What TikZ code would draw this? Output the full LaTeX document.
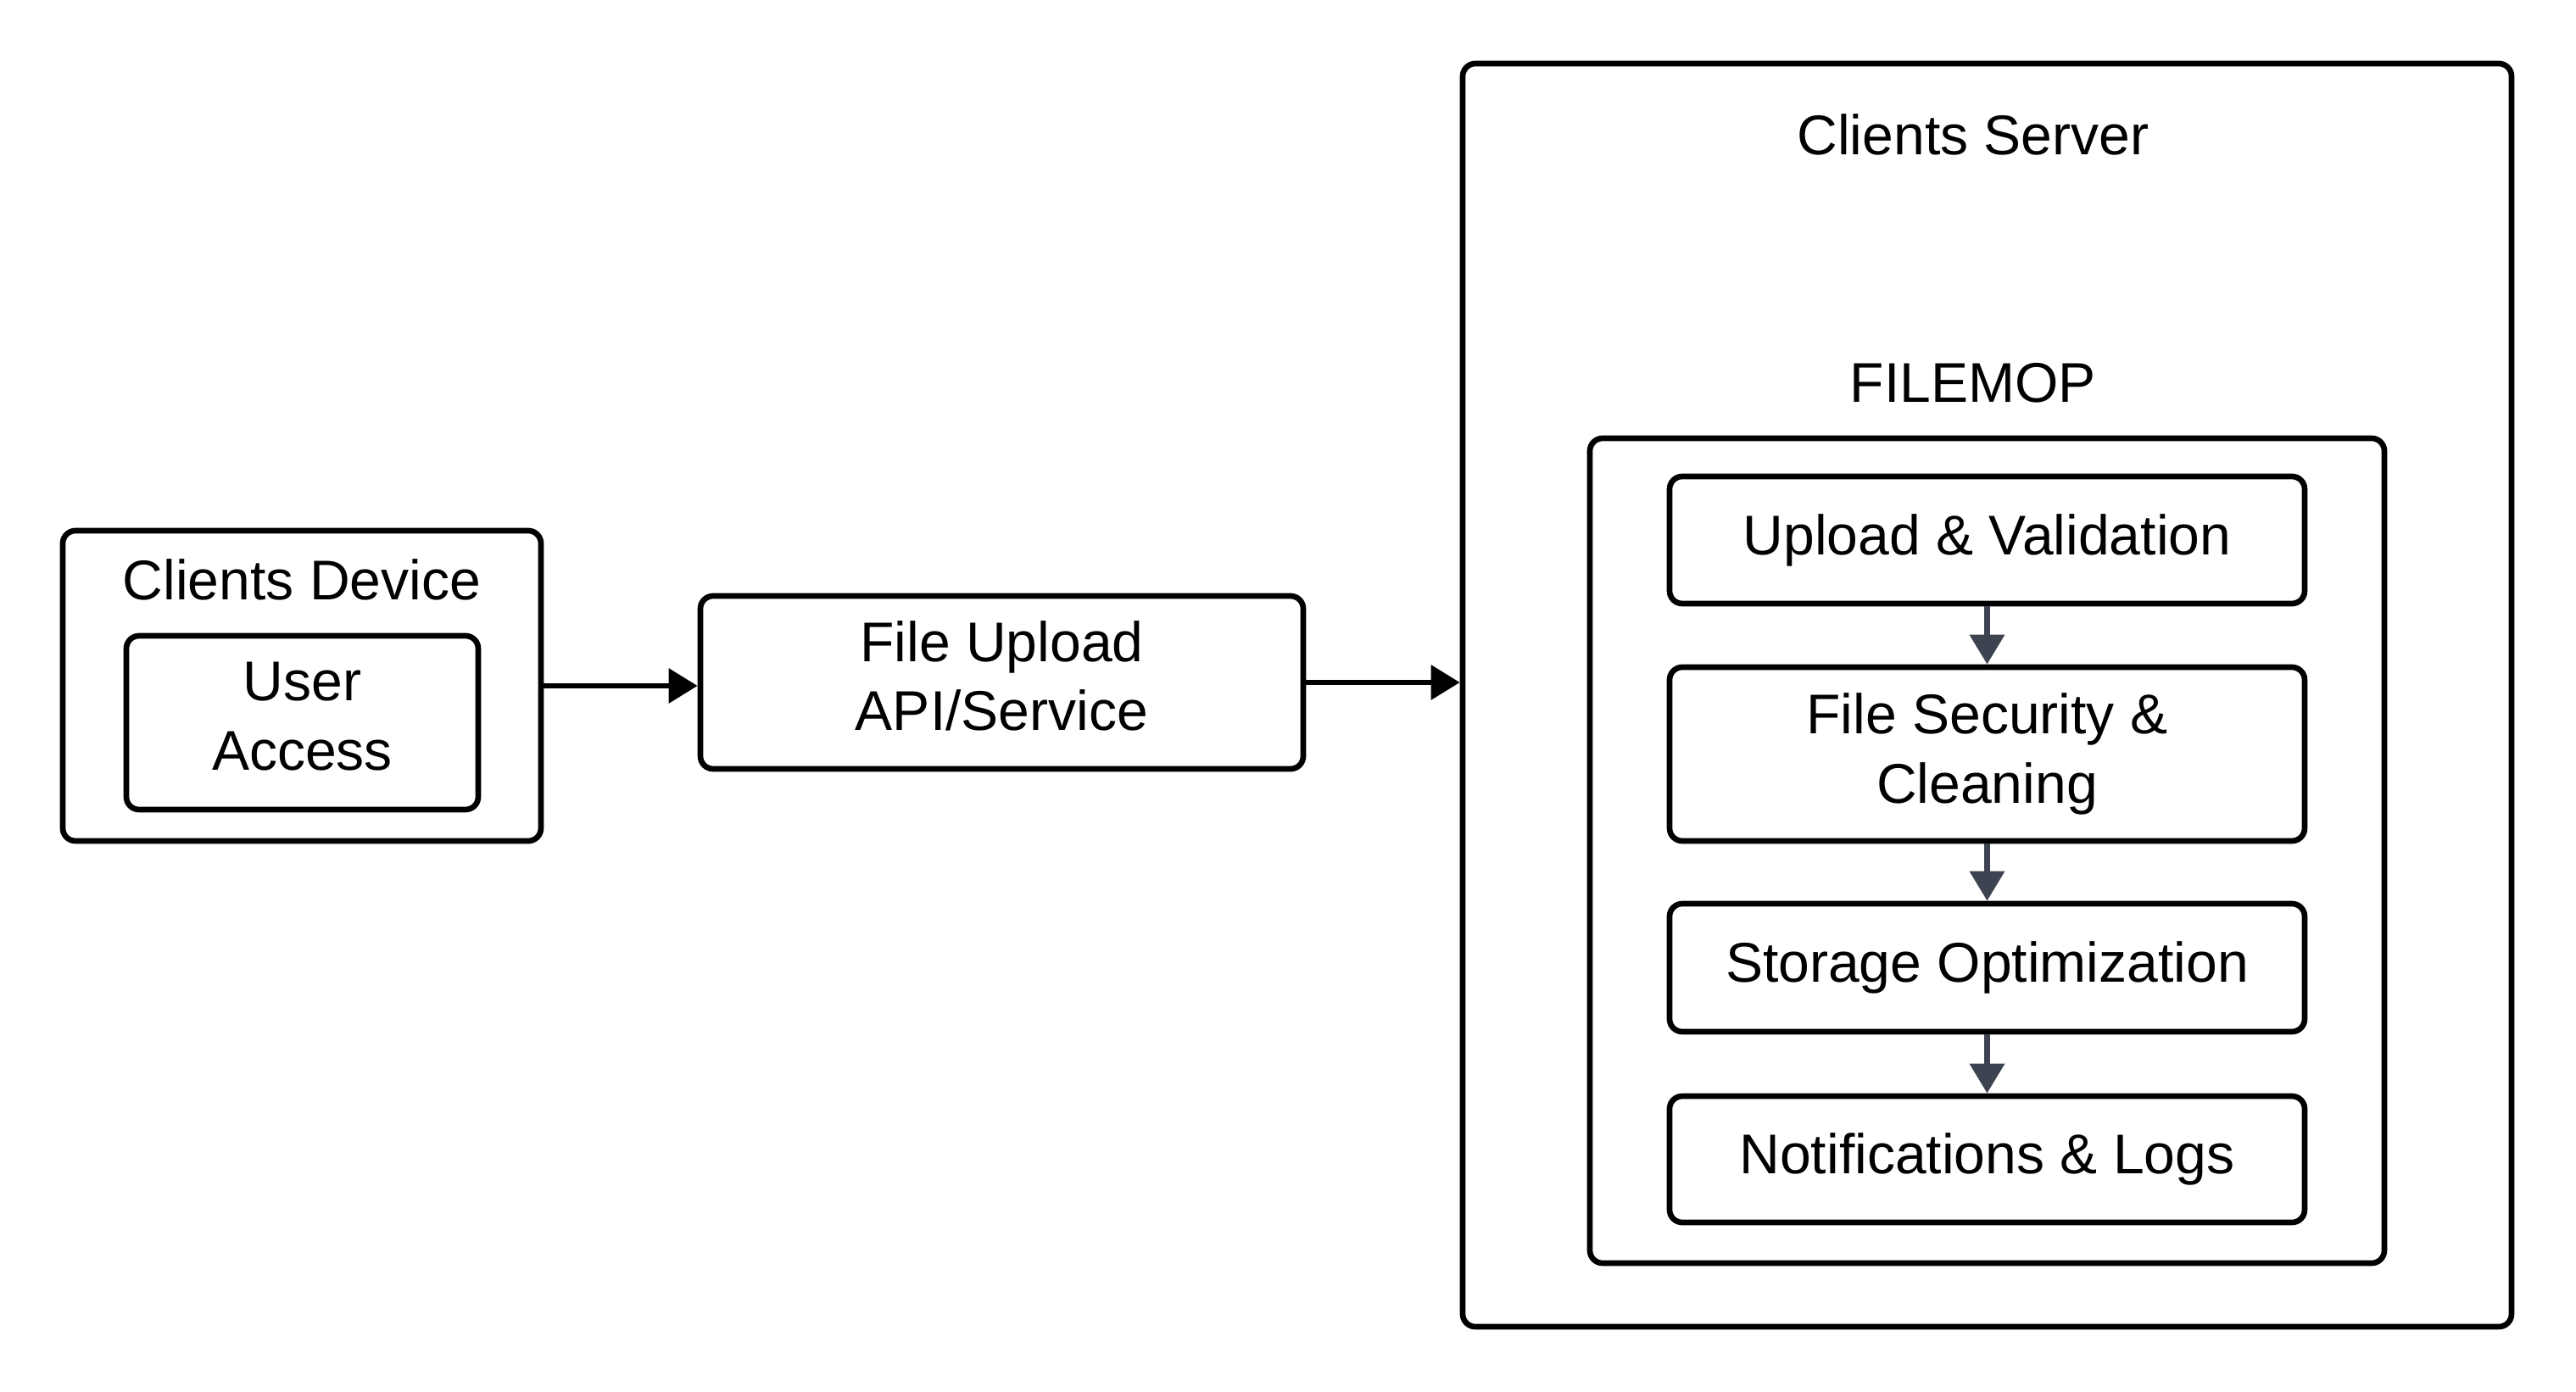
\documentclass[tikz,border=0pt]{standalone}
\usepackage{fontspec}
\setmainfont{Liberation Sans}
\usetikzlibrary{arrows.meta}
\definecolor{arrowgray}{HTML}{3D4350}

\begin{document}
\begin{tikzpicture}[
    box/.style={draw, line width=1.9pt, rounded corners=0.15cm, inner sep=0pt, align=center, font=\fontsize{18.8}{23.3}\selectfont},
    twolines/.style={text depth=4.5pt},
    title/.style={inner sep=0pt, font=\fontsize{18.8}{23.3}\selectfont},
    flow/.style={-{Triangle[length=0.34cm,width=0.40cm]}, line width=1.8pt},
    stagearrow/.style={-{Triangle[length=0.35cm,width=0.40cm]}, line width=2pt, draw=arrowgray}
]
    \useasboundingbox (0,0) rectangle (30.38,16.41);

    % Client side
    \node[box, minimum width=5.64cm, minimum height=3.66cm] (device) at (3.56,8.32) {};
    \node[title] (devicelabel) at (3.56,9.57) {Clients Device};
    \node[box, twolines, minimum width=4.15cm, minimum height=2.05cm] (user) at (3.565,7.885) {User\\Access};

    % Upload service
    \node[box, twolines, minimum width=7.11cm, minimum height=2.04cm] (fileup) at (11.815,8.36) {File Upload\\API/Service};

    % Server with FILEMOP
    \node[box, minimum width=12.37cm, minimum height=14.90cm] (server) at (23.435,8.21) {};
    \node[title] (serverlabel) at (23.27,14.82) {Clients Server};
    \node[title] (filemoplabel) at (23.27,11.89) {FILEMOP};
    \node[box, minimum width=9.37cm, minimum height=9.73cm] (filemop) at (23.435,6.375) {};

    % Stages
    \node[box, minimum width=7.49cm, minimum height=1.50cm] (upload) at (23.435,10.04) {Upload \& Validation};
    \node[box, minimum width=7.49cm, minimum height=2.05cm] (security) at (23.435,7.515) {File Security \&\\Cleaning};
    \node[box, minimum width=7.49cm, minimum height=1.51cm] (storage) at (23.435,4.995) {Storage Optimization};
    \node[box, minimum width=7.49cm, minimum height=1.49cm] (notify) at (23.435,2.735) {Notifications \& Logs};

    % Connectors
    \draw[flow] (device.east) -- (device.east -| fileup.west);
    \draw[flow] (fileup.east) -- (fileup.east -| server.west);
    \draw[stagearrow] (upload) -- (security);
    \draw[stagearrow] (security) -- (storage);
    \draw[stagearrow] (storage) -- (notify);
\end{tikzpicture}
\end{document}
